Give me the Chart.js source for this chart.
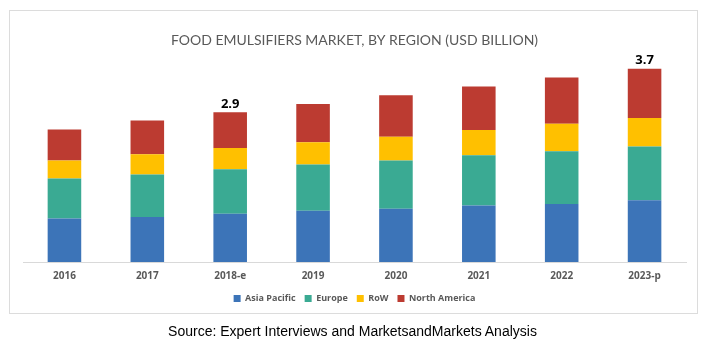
<!DOCTYPE html>
<html lang="en">
<head>
    <meta charset="UTF-8">
    <title>Food Emulsifiers Market, by Region</title>
    <script src="https://cdn.jsdelivr.net/npm/chart.js"></script>
    <style>
        body { margin: 0; background: #fff; }
        #wrap { position: relative; width: 705px; height: 353px; }
        #frame { position: absolute; left: 9px; top: 10px; width: 687px; height: 302px; border: 1px solid #dcdcdc; pointer-events: none; }
        #source { position: absolute; left: 0; top: 323px; width: 705px; text-align: center; font-family: "Liberation Sans", Arial, sans-serif; font-size: 14px; color: #000; }
    </style>
</head>
<body>
<div id="wrap">
    <canvas id="marketChart" width="705" height="353"></canvas>
    <div id="frame"></div>
    <div id="source">Source: Expert Interviews and MarketsandMarkets Analysis</div>
</div>
<script>
    // values (USD billion)
    const years = ['2016', '2017', '2018-e', '2019', '2020', '2021', '2022', '2023-p'];
    const asiaPacific = [0.84, 0.87, 0.93, 0.99, 1.03, 1.09, 1.12, 1.19];
    const europe = [0.77, 0.82, 0.86, 0.89, 0.93, 0.97, 1.02, 1.04];
    const restOfWorld = [0.35, 0.39, 0.41, 0.43, 0.46, 0.49, 0.53, 0.55];
    const northAmerica = [0.60, 0.65, 0.69, 0.74, 0.80, 0.84, 0.89, 0.95];
    const totalLabels = ['', '', '2.9', '', '', '', '', '3.7'];

    const grey = '#595959';

    // total labels above the stacks
    const totalsPlugin = {
        id: 'totals',
        afterDatasetsDraw(chart) {
            const ctx = chart.ctx;
            const meta = chart.getDatasetMeta(chart.data.datasets.length - 1);
            ctx.save();
            ctx.font = 'bold 13px "Open Sans", sans-serif';
            ctx.fillStyle = '#000';
            ctx.textAlign = 'center';
            ctx.textBaseline = 'bottom';
            meta.data.forEach((bar, i) => {
                if (totalLabels[i]) ctx.fillText(totalLabels[i], bar.x, bar.y - 2);
            });
            ctx.restore();
        }
    };

    const ctx = document.getElementById('marketChart').getContext('2d');
    new Chart(ctx, {
        type: 'bar',
        data: {
            labels: years,
            datasets: [
                { label: 'Asia Pacific', data: asiaPacific, backgroundColor: '#3C74B8' },
                { label: 'Europe', data: europe, backgroundColor: '#3AAA93' },
                { label: 'RoW', data: restOfWorld, backgroundColor: '#FFC000' },
                { label: 'North America', data: northAmerica, backgroundColor: '#BC3B31' }
            ]
        },
        options: {
            responsive: false,
            animation: false,
            barPercentage: 0.81,
            categoryPercentage: 0.5,
            layout: { padding: { left: 23, right: 19, top: 0, bottom: 40 } },
            plugins: {
                title: {
                    display: true,
                    text: 'FOOD EMULSIFIERS MARKET, BY REGION (USD BILLION)',
                    color: grey,
                    font: { family: 'Lato', size: 14, weight: 'normal' },
                    padding: { top: 32, bottom: 6 }
                },
                legend: {
                    position: 'bottom',
                    labels: {
                        boxWidth: 7,
                        boxHeight: 7,
                        padding: 9,
                        color: grey,
                        font: { family: '"Open Sans"', size: 9, weight: 'bold' }
                    }
                },
                tooltip: { enabled: false }
            },
            scales: {
                x: {
                    stacked: true,
                    grid: { display: false, drawTicks: false },
                    border: { color: '#d9d9d9' },
                    ticks: { color: grey, padding: 8, font: { family: '"Open Sans"', size: 10, weight: 'bold' } },
                    afterFit(scale) { scale.height = 23; }
                },
                y: {
                    stacked: true,
                    display: false,
                    min: 0,
                    max: 4
                }
            }
        },
        plugins: [totalsPlugin]
    });
</script>
</body>
</html>
